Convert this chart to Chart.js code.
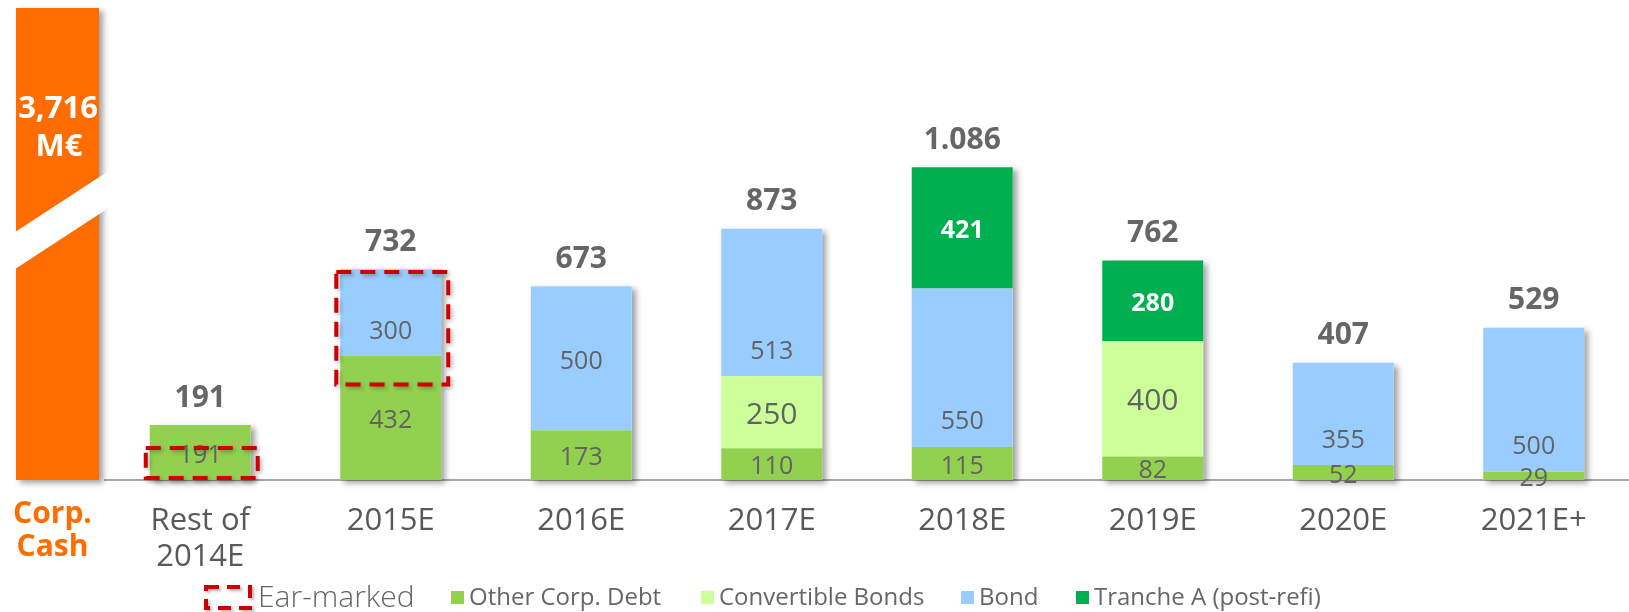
<!DOCTYPE html>
<html><head><meta charset="utf-8">
<script src="https://cdn.jsdelivr.net/npm/chart.js@4.4.1/dist/chart.umd.min.js"></script>
<style>html,body{margin:0;padding:0;background:#fff;overflow:hidden}#wrap{width:1629px;height:612px;position:relative}</style>
</head><body><div id="wrap"><canvas id="c"></canvas></div>
<script>
// ---- data ----
const categories = [['Rest of', '2014E'], '2015E', '2016E', '2017E', '2018E', '2019E', '2020E', '2021E+'];
const otherCorpDebt = [191, 432, 173, 110, 115, 82, 52, 29];
const convertibleBonds = [null, null, null, 250, null, 400, null, null];
const bond = [null, 300, 500, 513, 550, null, 355, 500];
const trancheA = [null, null, null, null, 421, 280, null, null];
const totalLabels = ['191', '732', '673', '873', '1.086', '762', '407', '529'];
const corpCashValue = ['3,716', 'M€'];
const corpCashTitle = ['Corp.', 'Cash'];
const earMarked = [{ index: 0, from: 7, to: 111 }, { index: 1, from: 332, to: 722 }];
const earMarkedLabel = 'Ear-marked';
const seriesNames = ['Other Corp. Debt', 'Convertible Bonds', 'Bond', 'Tranche A (post-refi)'];

// ---- styles ----
const FONT = '"Open Sans", "Noto Sans", sans-serif';
const COLORS = ['#92D050', '#CCFF99', '#99CCFF', '#00B050'];
const ORANGE = '#FF6D00';
const TEXT = '#636363';
const RED = '#D00000';
const bondLabelShift = [0, 16, 1, 46, 51, 0, 24, 44];
const legendX = [451, 701, 961, 1076];

function totalAt(i) {
  return [otherCorpDebt, convertibleBonds, bond, trancheA].reduce((s, a) => s + (a[i] || 0), 0);
}

const custom = {
  id: 'custom',
  beforeDatasetsDraw(chart) {
    const ctx = chart.ctx, y = chart.scales.y, base = y.getPixelForValue(0);
    const meta0 = chart.getDatasetMeta(0);
    ctx.save();
    ctx.shadowColor = 'rgba(0,0,0,0.38)';
    ctx.shadowBlur = 6; ctx.shadowOffsetX = 4; ctx.shadowOffsetY = 3;
    ctx.fillStyle = ORANGE;
    ctx.fillRect(16, 8, 83, base - 8);
    ctx.fillStyle = '#ffffff';
    meta0.data.forEach((el, i) => {
      const p = el.getProps(['x', 'width'], true);
      const top = y.getPixelForValue(totalAt(i));
      ctx.fillRect(p.x - p.width / 2, top, p.width, base - top);
    });
    ctx.restore();
    // broken-axis white cut on the corp cash bar
    ctx.save();
    ctx.fillStyle = '#ffffff';
    ctx.beginPath();
    ctx.moveTo(6, 238); ctx.lineTo(110, 170); ctx.lineTo(110, 207); ctx.lineTo(6, 275);
    ctx.closePath(); ctx.fill();
    ctx.fillStyle = '#ffffff';
    ctx.textAlign = 'center'; ctx.textBaseline = 'middle';
    ctx.font = 'bold 31px ' + FONT;
    ctx.fillText(corpCashValue[0], 58, 109);
    ctx.fillText(corpCashValue[1], 59, 147);
    ctx.restore();
  },
  afterDatasetsDraw(chart) {
    const ctx = chart.ctx, y = chart.scales.y;
    ctx.save();
    ctx.textAlign = 'center'; ctx.textBaseline = 'middle';
    chart.data.datasets.forEach((ds, d) => {
      const meta = chart.getDatasetMeta(d);
      meta.data.forEach((el, i) => {
        const v = ds.data[i];
        if (v == null) return;
        const p = el.getProps(['x', 'y', 'base'], true);
        let cy = (p.y + p.base) / 2 + 3;
        if (d === 0) { ctx.font = '25px ' + FONT; ctx.fillStyle = TEXT; }
        if (d === 1) { ctx.font = '30px ' + FONT; ctx.fillStyle = TEXT; }
        if (d === 2) { ctx.font = '25px ' + FONT; ctx.fillStyle = TEXT; cy += bondLabelShift[i]; }
        if (d === 3) { ctx.font = 'bold 25px ' + FONT; ctx.fillStyle = '#ffffff'; }
        ctx.fillText(String(v), p.x, cy);
      });
    });
    // totals
    const meta0 = chart.getDatasetMeta(0);
    ctx.font = 'bold 30px ' + FONT; ctx.fillStyle = '#666666';
    meta0.data.forEach((el, i) => {
      const top = y.getPixelForValue(totalAt(i));
      ctx.fillText(totalLabels[i], el.x, top - 27);
    });
    // ear-marked boxes
    ctx.strokeStyle = RED; ctx.lineWidth = 4; ctx.setLineDash([15, 9]);
    ctx.shadowColor = 'rgba(0,0,0,0.3)'; ctx.shadowBlur = 4; ctx.shadowOffsetX = 2; ctx.shadowOffsetY = 2;
    earMarked.forEach(b => {
      const el = meta0.data[b.index].getProps(['x', 'width'], true);
      const x0 = el.x - el.width / 2 - 4, x1 = el.x + el.width / 2 + 7;
      const y0 = y.getPixelForValue(b.to), y1 = y.getPixelForValue(b.from);
      ctx.strokeRect(x0, y0, x1 - x0, y1 - y0);
    });
    ctx.restore();
  },
  afterDraw(chart) {
    const ctx = chart.ctx;
    ctx.save();
    ctx.textAlign = 'center'; ctx.textBaseline = 'middle';
    ctx.fillStyle = ORANGE; ctx.font = 'bold 30px ' + FONT;
    ctx.fillText(corpCashTitle[0], 52.5, 514);
    ctx.fillText(corpCashTitle[1], 52.5, 547);
    // legend
    const ly = 598;
    ctx.strokeStyle = RED; ctx.lineWidth = 4; ctx.setLineDash([13, 8]);
    ctx.shadowColor = 'rgba(0,0,0,0.3)'; ctx.shadowBlur = 3; ctx.shadowOffsetX = 2; ctx.shadowOffsetY = 2;
    ctx.strokeRect(206, 587, 44, 21);
    ctx.shadowColor = 'transparent';
    ctx.setLineDash([]);
    ctx.textAlign = 'left';
    ctx.fillStyle = '#666666';
    ctx.font = '300 30px ' + FONT;
    ctx.fillText(earMarkedLabel, 258, ly);
    ctx.font = '24px ' + FONT;
    chart.data.datasets.forEach((ds, d) => {
      ctx.fillStyle = ds.backgroundColor;
      ctx.fillRect(legendX[d], ly - 7, 13, 13);
      ctx.fillStyle = '#666666';
      ctx.fillText(ds.label, legendX[d] + 18, ly);
    });
    ctx.restore();
  }
};

const mk = (label, data, idx) => ({ label, data, backgroundColor: COLORS[idx], borderWidth: 0, barPercentage: 0.53, categoryPercentage: 1 });

new Chart(document.getElementById('c'), {
  type: 'bar',
  data: {
    labels: categories,
    datasets: [
      mk(seriesNames[0], otherCorpDebt, 0),
      mk(seriesNames[1], convertibleBonds, 1),
      mk(seriesNames[2], bond, 2),
      mk(seriesNames[3], trancheA, 3)
    ]
  },
  options: {
    responsive: true, maintainAspectRatio: false, animation: false,
    layout: { padding: { left: 105, right: 0, top: 0, bottom: 0 } },
    plugins: { legend: { display: false }, tooltip: { enabled: false } },
    scales: {
      x: {
        stacked: true,
        grid: { display: false, drawTicks: false },
        border: { display: true, color: '#A6A6A6', width: 2 },
        ticks: { color: '#595959', font: { family: FONT, size: 31, lineHeight: 1.16 }, padding: 23, maxRotation: 0, autoSkip: false },
        afterFit(s) { s.height = 132; }
      },
      y: { stacked: true, display: false, min: 0, max: 1667 }
    }
  },
  plugins: [custom]
});
</script></body></html>
